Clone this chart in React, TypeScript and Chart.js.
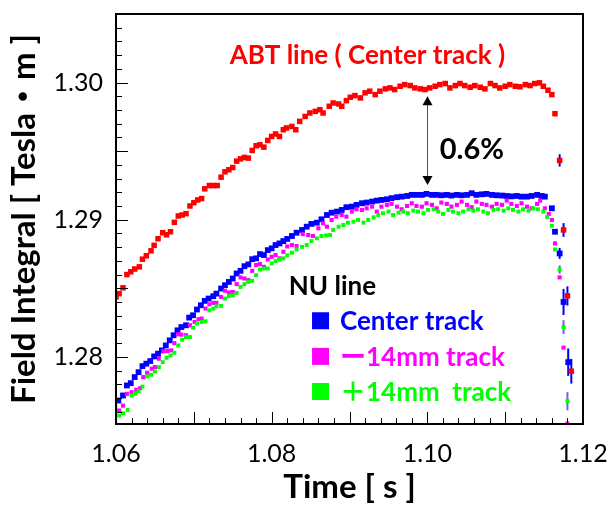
import React, { useEffect, useRef } from "react";
import { Chart, registerables } from "chart.js";

Chart.register(...registerables);

const FONT = "Lato, 'Noto Sans CJK JP', sans-serif";

const X_MIN = 1.06;
const X_MAX = 1.12;
const Y_MIN = 1.2751;
const Y_MAX = 1.305;
const X_TICK_LABELS = [1.06, 1.08, 1.1, 1.12];
const Y_TICK_LABELS = [1.28, 1.29, 1.3];

// ABT line, center track
const RED_T = [
  1.06, 1.0604, 1.0609, 1.0614, 1.0619, 1.0624, 1.063, 1.0634, 1.0639, 1.0645,
  1.0649, 1.0654, 1.066, 1.0665, 1.067, 1.0675, 1.068, 1.0685, 1.069, 1.0695,
  1.07, 1.0705, 1.071, 1.0714, 1.072, 1.0725, 1.073, 1.0735, 1.074, 1.0745,
  1.075, 1.0755, 1.076, 1.0765, 1.077, 1.0775, 1.078, 1.0785, 1.079, 1.0795,
  1.08, 1.0805, 1.081, 1.0815, 1.0819, 1.0826, 1.0831, 1.0836, 1.0843, 1.0849,
  1.0856, 1.0862, 1.0866, 1.0874, 1.0879, 1.0886, 1.089, 1.0896, 1.0901, 1.0907,
  1.0914, 1.092, 1.0926, 1.0933, 1.0939, 1.0946, 1.0952, 1.0958, 1.0965, 1.0971,
  1.0978, 1.0984, 1.0991, 1.0997, 1.1003, 1.101, 1.1016, 1.1023, 1.1029, 1.1036,
  1.1042, 1.1048, 1.1055, 1.1061, 1.1068, 1.1074, 1.1081, 1.1087, 1.1093, 1.11,
  1.1106, 1.1113, 1.1119, 1.1126, 1.1132, 1.1138, 1.1144, 1.1149, 1.1155, 1.116,
  1.1164,
];
const RED_V = [
  1.28437, 1.28461, 1.28503, 1.286, 1.2862, 1.2864, 1.28656, 1.28712, 1.28737, 1.28773,
  1.28813, 1.28861, 1.28905, 1.2889, 1.28912, 1.28981, 1.29027, 1.29034, 1.29044, 1.291,
  1.29124, 1.29144, 1.29154, 1.29225, 1.29249, 1.29249, 1.29249, 1.2931, 1.29349, 1.29364,
  1.2938, 1.29427, 1.29444, 1.29454, 1.29449, 1.29505, 1.29539, 1.29546, 1.29529, 1.29578,
  1.29607, 1.29625, 1.29607, 1.29656, 1.29669, 1.2968, 1.29656, 1.29717, 1.29753, 1.29778,
  1.2979, 1.29802, 1.29778, 1.29827, 1.29851, 1.29844, 1.29827, 1.29868, 1.29893, 1.29905,
  1.29888, 1.29925, 1.29937, 1.29912, 1.29937, 1.29954, 1.29961, 1.29949, 1.29973, 1.29985,
  1.29978, 1.29961, 1.29954, 1.29949, 1.29961, 1.29973, 1.29985, 1.29993, 1.29961, 1.29978,
  1.29993, 1.29978, 1.29966, 1.29978, 1.29966, 1.29954, 1.29993, 1.29978, 1.29961, 1.29973,
  1.29985, 1.29973, 1.29969, 1.29985, 1.29978, 1.29993, 1.29998, 1.29973, 1.29944, 1.29912,
  1.29773,
];
const RED_DROP_T = [1.117, 1.1175, 1.118, 1.1185];
const RED_DROP_V = [1.29432, 1.28925, 1.28444, 1.27895];
const RED_DROP_E = [0.00045, 0.0005, 0.0007, 0.0009];

// NU line, center track
const BLUE_T = [
  1.0603, 1.0609, 1.0614, 1.0619, 1.0624, 1.0629, 1.0634, 1.0639, 1.0644, 1.0649,
  1.0654, 1.0659, 1.0664, 1.0669, 1.0674, 1.0679, 1.0684, 1.069, 1.0694, 1.0699,
  1.0704, 1.0709, 1.0714, 1.0719, 1.0725, 1.0729, 1.0735, 1.074, 1.0745, 1.075,
  1.0755, 1.076, 1.0765, 1.077, 1.0775, 1.078, 1.0785, 1.079, 1.0795, 1.08,
  1.0805, 1.081, 1.0815, 1.082, 1.0826, 1.0832, 1.0839, 1.0845, 1.0851, 1.0858,
  1.0864, 1.0871, 1.0877, 1.0884, 1.089, 1.0896, 1.0903, 1.0909, 1.0916, 1.0922,
  1.0929, 1.0935, 1.0941, 1.0948, 1.0954, 1.0961, 1.0967, 1.0974, 1.098, 1.0986,
  1.0993, 1.0999, 1.1006, 1.1012, 1.1018, 1.1025, 1.1031, 1.1038, 1.1044, 1.1051,
  1.1057, 1.1063, 1.107, 1.1076, 1.1083, 1.1089, 1.1096, 1.1102, 1.1108, 1.1115,
  1.1121, 1.1128, 1.1134, 1.1141, 1.1147, 1.1151, 1.116, 1.1164,
];
const BLUE_V = [
  1.27681, 1.27718, 1.27791, 1.27808, 1.27852, 1.27888, 1.27932, 1.2795, 1.27969, 1.28003,
  1.28023, 1.28047, 1.28083, 1.2812, 1.28157, 1.28193, 1.28217, 1.2823, 1.28286, 1.28303,
  1.28345, 1.28376, 1.28408, 1.28425, 1.28442, 1.28461, 1.28498, 1.28522, 1.28546, 1.28571,
  1.28608, 1.28627, 1.28661, 1.28674, 1.28712, 1.28718, 1.28749, 1.28742, 1.28778, 1.28791,
  1.28815, 1.28827, 1.28844, 1.2886, 1.28881, 1.28905, 1.28925, 1.28949, 1.28969, 1.28978,
  1.29003, 1.29034, 1.29051, 1.29059, 1.29071, 1.29091, 1.29095, 1.29108, 1.2912, 1.29125,
  1.29132, 1.29139, 1.29144, 1.29149, 1.29157, 1.29164, 1.29168, 1.29173, 1.29181, 1.29181,
  1.29181, 1.29188, 1.29181, 1.29181, 1.29178, 1.29181, 1.29176, 1.29181, 1.29178, 1.29181,
  1.29193, 1.29181, 1.29185, 1.29188, 1.29181, 1.29178, 1.29176, 1.29173, 1.2917, 1.29173,
  1.29168, 1.29168, 1.29173, 1.29181, 1.29173, 1.29168, 1.29083, 1.28912,
];
const BLUE_DROP_T = [1.117, 1.1175, 1.1181];
const BLUE_DROP_V = [1.28754, 1.284, 1.27961];
const BLUE_DROP_E = [0.0004, 0.00095, 0.001];

// NU line, -14mm track
const MAGENTA_T = [
  1.0599, 1.0604, 1.0609, 1.0614, 1.062, 1.0626, 1.0631, 1.0635, 1.064, 1.0646,
  1.065, 1.0655, 1.0661, 1.0666, 1.0671, 1.0675, 1.068, 1.0684, 1.069, 1.0695,
  1.0701, 1.0706, 1.071, 1.0715, 1.072, 1.0725, 1.0729, 1.0735, 1.074, 1.0745,
  1.075, 1.0755, 1.076, 1.0765, 1.077, 1.0775, 1.078, 1.0785, 1.079, 1.0795,
  1.08, 1.0805, 1.081, 1.0815, 1.082, 1.0826, 1.0832, 1.084, 1.0847, 1.0853,
  1.086, 1.0866, 1.0871, 1.0877, 1.0883, 1.089, 1.0896, 1.0903, 1.0909, 1.0916,
  1.0922, 1.0929, 1.0935, 1.0941, 1.0948, 1.0954, 1.0961, 1.0967, 1.0974, 1.098,
  1.0986, 1.0993, 1.0999, 1.1006, 1.1012, 1.1018, 1.1025, 1.1031, 1.1038, 1.1044,
  1.1051, 1.1057, 1.1063, 1.107, 1.1076, 1.1083, 1.1089, 1.1096, 1.1102, 1.1108,
  1.1115, 1.1121, 1.1128, 1.1134, 1.1141, 1.1145, 1.1151, 1.1156, 1.116, 1.1164,
  1.117, 1.1175, 1.118,
];
const MAGENTA_V = [
  1.27632, 1.27608, 1.27644, 1.2773, 1.27742, 1.27759, 1.27771, 1.27852, 1.27884, 1.27913,
  1.27925, 1.27986, 1.28042, 1.28042, 1.28047, 1.281, 1.28164, 1.28162, 1.28157, 1.2823,
  1.28254, 1.28274, 1.28279, 1.28352, 1.28383, 1.28393, 1.28393, 1.28437, 1.28481, 1.28469,
  1.28473, 1.2853, 1.28579, 1.28571, 1.28559, 1.28627, 1.28669, 1.28676, 1.28656, 1.2871,
  1.28729, 1.28742, 1.28718, 1.28766, 1.28805, 1.28815, 1.28808, 1.28895, 1.28888, 1.28881,
  1.28937, 1.28974, 1.28949, 1.28998, 1.29022, 1.29034, 1.29022, 1.29059, 1.29076, 1.29071,
  1.29083, 1.29095, 1.29059, 1.29095, 1.29108, 1.29115, 1.29095, 1.29076, 1.291, 1.2912,
  1.291, 1.29095, 1.2912, 1.29108, 1.29083, 1.29125, 1.29115, 1.29095, 1.29108, 1.29132,
  1.29108, 1.29091, 1.29132, 1.29115, 1.29108, 1.29095, 1.29115, 1.29108, 1.29139, 1.29115,
  1.291, 1.2912, 1.29095, 1.29083, 1.29115, 1.29139, 1.29083, 1.29042, 1.28998, 1.28827,
  1.28579, 1.28067, 1.27513,
];

// NU line, +14mm track
const GREEN_T = [
  1.0599, 1.0604, 1.0609, 1.0615, 1.062, 1.0625, 1.0629, 1.0634, 1.064, 1.0645,
  1.065, 1.0655, 1.066, 1.0665, 1.067, 1.0675, 1.068, 1.0685, 1.069, 1.0695,
  1.0699, 1.0704, 1.071, 1.0715, 1.072, 1.0725, 1.0729, 1.0735, 1.074, 1.0745,
  1.075, 1.0755, 1.076, 1.0765, 1.077, 1.0775, 1.078, 1.0785, 1.079, 1.0795,
  1.08, 1.0805, 1.081, 1.0815, 1.082, 1.0826, 1.0832, 1.0839, 1.0845, 1.0851,
  1.0858, 1.0864, 1.087, 1.0875, 1.0879, 1.0886, 1.0892, 1.0898, 1.0905, 1.0911,
  1.0918, 1.0924, 1.0931, 1.0937, 1.0943, 1.095, 1.0956, 1.0963, 1.0969, 1.0975,
  1.0982, 1.0988, 1.0995, 1.1001, 1.1008, 1.1014, 1.102, 1.1027, 1.1033, 1.104,
  1.1046, 1.1053, 1.1059, 1.1065, 1.1072, 1.1078, 1.1085, 1.1091, 1.1098, 1.1104,
  1.111, 1.1117, 1.1123, 1.113, 1.1136, 1.1142, 1.1149, 1.1154, 1.116, 1.1164,
];
const GREEN_V = [
  1.27535, 1.27571, 1.27588, 1.27613, 1.27718, 1.2773, 1.2775, 1.27783, 1.27857, 1.27869,
  1.27893, 1.27925, 1.27961, 1.27993, 1.2801, 1.2803, 1.28083, 1.28125, 1.28144, 1.28144,
  1.28213, 1.28242, 1.28254, 1.28259, 1.28339, 1.28352, 1.28369, 1.28371, 1.28425, 1.28442,
  1.28449, 1.28466, 1.2851, 1.2853, 1.28546, 1.28554, 1.28595, 1.28637, 1.28644, 1.28644,
  1.28681, 1.28698, 1.2871, 1.28718, 1.2874, 1.28759, 1.28783, 1.28802, 1.28815, 1.28844,
  1.28864, 1.28881, 1.28885, 1.28888, 1.28925, 1.28949, 1.28961, 1.28978, 1.28985, 1.28998,
  1.28978, 1.28998, 1.29017, 1.29034, 1.29047, 1.29059, 1.29034, 1.29051, 1.29059, 1.29047,
  1.29066, 1.29059, 1.29047, 1.29071, 1.29076, 1.29059, 1.29042, 1.29071, 1.29059, 1.29047,
  1.29059, 1.29076, 1.29066, 1.29076, 1.29059, 1.29047, 1.29071, 1.29076, 1.29066, 1.29083,
  1.29071, 1.29059, 1.29076, 1.29066, 1.29083, 1.29076, 1.29059, 1.2902, 1.28956, 1.28783,
];
const GREEN_DROP_T = [1.117, 1.1175, 1.118];
const GREEN_DROP_V = [1.28637, 1.28217, 1.27676];
const GREEN_DROP_E = [0.0003, 0.0005, 0.00066];

const LEGEND_LABELS = ["Center track", "\u30FC14mm track", "\uFF0B14mm  track"];
const LEGEND_COLORS = ["#0000ff", "#ff00ff", "#00ff00"];

function pts(t: number[], v: number[], e?: number[]) {
  return t.map((x, i) => ({ x, y: v[i], e: e ? e[i] : 0 }));
}

const annotationPlugin = {
  id: "rootStyle",
  beforeDatasetsDraw(chart: any) {
    const { ctx, chartArea: a, scales } = chart;
    const xs = scales.x;
    const ys = scales.y;
    ctx.save();
    ctx.beginPath();
    ctx.rect(a.left, a.top, a.right - a.left, a.bottom - a.top);
    ctx.clip();
    chart.data.datasets.forEach((ds: any) => {
      ctx.strokeStyle = ds.errColor;
      ctx.lineWidth = 2;
      ds.data.forEach((p: any) => {
        if (!p.e) return;
        const x = xs.getPixelForValue(p.x);
        ctx.beginPath();
        ctx.moveTo(x, ys.getPixelForValue(p.y - p.e));
        ctx.lineTo(x, ys.getPixelForValue(p.y + p.e));
        ctx.stroke();
      });
    });
    ctx.restore();
  },
  afterDatasetsDraw(chart: any) {
    const { ctx, chartArea: a, scales } = chart;
    const xs = scales.x;
    const ys = scales.y;
    ctx.save();
    // axis ticks (inward)
    ctx.strokeStyle = "#000";
    ctx.lineWidth = 1;
    for (let k = 0; k <= 30; k++) {
      const x = Math.round(xs.getPixelForValue(X_MIN + k * 0.002)) + 0.5;
      const len = k % 5 === 0 ? 12 : 6;
      ctx.beginPath();
      ctx.moveTo(x, a.bottom);
      ctx.lineTo(x, a.bottom - len);
      ctx.stroke();
    }
    for (let k = 0; k <= 29; k++) {
      const y = Math.round(ys.getPixelForValue(1.276 + k * 0.001)) + 0.5;
      const len = (k + 1) % 5 === 0 ? 12 : 6;
      ctx.beginPath();
      ctx.moveTo(a.left, y);
      ctx.lineTo(a.left + len, y);
      ctx.stroke();
    }
    // frame
    ctx.lineWidth = 2;
    ctx.strokeRect(a.left, a.top, a.right - a.left, a.bottom - a.top);

    // ABT title
    ctx.fillStyle = "#ff0000";
    ctx.font = `bold 26px ${FONT}`;
    ctx.textAlign = "center";
    ctx.textBaseline = "alphabetic";
    ctx.fillText("ABT line ( Center track )", xs.getPixelForValue(1.0923), ys.getPixelForValue(1.30132));

    // arrow
    const ax = Math.round(xs.getPixelForValue(1.1)) + 0.5;
    const yTop = ys.getPixelForValue(1.299);
    const yBot = ys.getPixelForValue(1.29253);
    ctx.strokeStyle = "#555";
    ctx.lineWidth = 1;
    ctx.beginPath();
    ctx.moveTo(ax, yTop + 8);
    ctx.lineTo(ax, yBot - 8);
    ctx.stroke();
    ctx.fillStyle = "#000";
    ctx.beginPath();
    ctx.moveTo(ax, yTop);
    ctx.lineTo(ax - 5, yTop + 9);
    ctx.lineTo(ax + 5, yTop + 9);
    ctx.closePath();
    ctx.fill();
    ctx.beginPath();
    ctx.moveTo(ax, yBot);
    ctx.lineTo(ax - 5, yBot - 9);
    ctx.lineTo(ax + 5, yBot - 9);
    ctx.closePath();
    ctx.fill();

    ctx.font = `bold 29px ${FONT}`;
    ctx.textAlign = "left";
    ctx.fillText("0.6%", xs.getPixelForValue(1.1016), ys.getPixelForValue(1.29445));

    // legend
    ctx.font = `bold 26px ${FONT}`;
    ctx.fillStyle = "#000";
    ctx.fillText("NU line", xs.getPixelForValue(1.0822), ys.getPixelForValue(1.2845));
    const rows = [1.28263, 1.28003, 1.27747];
    const sx = xs.getPixelForValue(1.08628);
    const tx = xs.getPixelForValue(1.08878);
    rows.forEach((v, i) => {
      const y = ys.getPixelForValue(v);
      ctx.fillStyle = LEGEND_COLORS[i];
      ctx.fillRect(sx - 8.5, y - 8.5, 17, 17);
      ctx.font = `bold 26px ${FONT}`;
      ctx.textBaseline = "middle";
      ctx.fillText(LEGEND_LABELS[i], tx, y + 1);
      ctx.textBaseline = "alphabetic";
    });
    ctx.restore();
  },
};

export default function App() {
  const ref = useRef<HTMLCanvasElement | null>(null);
  useEffect(() => {
    if (!ref.current) return;
    const chart = new Chart(ref.current, {
      type: "scatter",
      data: {
        datasets: [
          {
            label: "ABT line (Center track)",
            data: pts(RED_T, RED_V).concat(pts(RED_DROP_T, RED_DROP_V, RED_DROP_E)),
            backgroundColor: "#ff0000",
            pointStyle: "rect",
            pointRadius: 3.9,
            pointBorderWidth: 0,
            borderWidth: 0,
            errColor: "#0000ff",
          } as any,
          {
            label: "+14mm track",
            data: pts(GREEN_T, GREEN_V).concat(pts(GREEN_DROP_T, GREEN_DROP_V, GREEN_DROP_E)),
            backgroundColor: "#00ff00",
            pointStyle: "rect",
            pointRadius: 2.8,
            pointBorderWidth: 0,
            borderWidth: 0,
            errColor: "#6666dd",
          } as any,
          {
            label: "-14mm track",
            data: pts(MAGENTA_T, MAGENTA_V),
            backgroundColor: "#ff00ff",
            pointStyle: "rect",
            pointRadius: 2.9,
            pointBorderWidth: 0,
            borderWidth: 0,
            errColor: "#ff00ff",
          } as any,
          {
            label: "Center track",
            data: pts(BLUE_T, BLUE_V).concat(pts(BLUE_DROP_T, BLUE_DROP_V, BLUE_DROP_E)),
            backgroundColor: "#0000ff",
            pointStyle: "rect",
            pointRadius: 4.1,
            pointBorderWidth: 0,
            borderWidth: 0,
            errColor: "#0000ff",
          } as any,
        ],
      },
      options: {
        animation: false,
        responsive: false,
        devicePixelRatio: 1,
        layout: { padding: { left: 0, right: 32, top: 14, bottom: 0 } },
        plugins: { legend: { display: false }, tooltip: { enabled: false } },
        scales: {
          x: {
            type: "linear",
            position: "bottom",
            min: X_MIN,
            max: X_MAX,
            afterBuildTicks: (s: any) => {
              s.ticks = X_TICK_LABELS.map((value) => ({ value }));
            },
            afterFit: (s: any) => {
              s.height = 82;
              s.paddingLeft = 0;
              s.paddingRight = 0;
            },
            grid: { display: false, drawTicks: false },
            border: { display: false },
            ticks: {
              autoSkip: false,
              maxRotation: 0,
              padding: 15,
              color: "#000",
              font: { family: FONT, size: 25 },
              callback: (v: any) => Number(v).toFixed(2),
            },
            title: {
              display: true,
              text: "Time [ s ]",
              color: "#000",
              font: { family: FONT, size: 33, weight: "bold" },
              padding: { top: 0, bottom: -1 },
            },
          },
          y: {
            type: "linear",
            position: "left",
            min: Y_MIN,
            max: Y_MAX,
            afterBuildTicks: (s: any) => {
              s.ticks = Y_TICK_LABELS.map((value) => ({ value }));
            },
            afterFit: (s: any) => {
              s.width = 116;
              s.paddingTop = 0;
              s.paddingBottom = 0;
            },
            grid: { display: false, drawTicks: false },
            border: { display: false },
            ticks: {
              autoSkip: false,
              padding: 13,
              color: "#000",
              font: { family: FONT, size: 25 },
              callback: (v: any) => Number(v).toFixed(2),
            },
            title: {
              display: true,
              text: "Field Integral [ Tesla\u30FBm ]",
              color: "#000",
              font: { family: FONT, size: 33, weight: "bold" },
              padding: { top: 5, bottom: 0 },
            },
          },
        },
      },
      plugins: [annotationPlugin],
    });
    return () => chart.destroy();
  }, []);

  return (
    <div style={{ position: "fixed", left: 0, top: 0, width: 615, height: 506, background: "#fff" }}>
      <canvas ref={ref} width={615} height={506} style={{ display: "block" }} />
    </div>
  );
}
